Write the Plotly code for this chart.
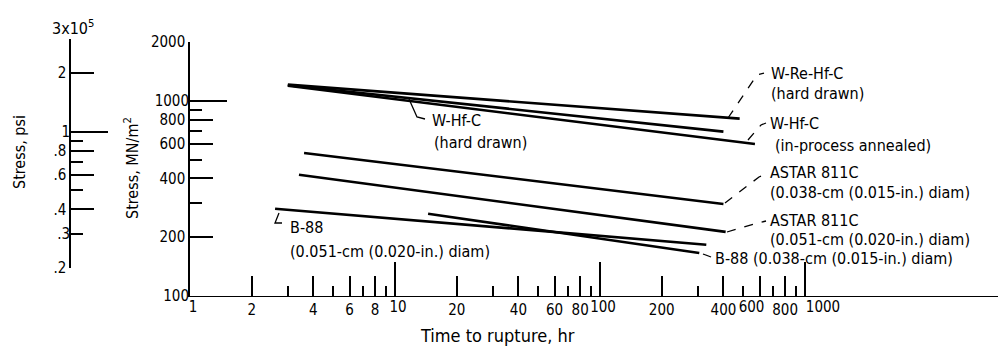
import math
import plotly.graph_objects as go

# page size and the browser's default 8 px body margin
W, H = 1006, 346
OFF = 8
FIG_W, FIG_H = W - OFF, H - OFF

# ---------------- data ----------------
series_names = [
    "W-Re-Hf-C (hard drawn)",
    "W-Hf-C (hard drawn)",
    "W-Hf-C (in-process annealed)",
    "ASTAR 811C (0.038-cm)",
    "ASTAR 811C (0.051-cm)",
    "B-88 (0.051-cm)",
    "B-88 (0.038-cm)",
]
time_start_hr = [3.0, 3.0, 3.0, 3.6, 3.4, 2.6, 14.5]
time_end_hr = [480, 400, 570, 400, 410, 330, 305]
stress_start_mn = [1210, 1200, 1195, 540, 418, 280, 264]
stress_end_mn = [810, 695, 600, 296, 213, 183, 166]

x_major_ticks = [2, 4, 6, 8, 20, 40, 60, 80, 200, 400, 600, 800]
x_minor_ticks = [3, 5, 7, 9, 30, 50, 70, 90, 300, 500, 700, 900]
x_decade_ticks = [1, 10, 100]
x_last_tick = [1000]
x_shifted_label = [600]
mn_major_ticks = [200, 400, 600, 800, 2000]
mn_minor_ticks = [300, 500, 700, 900]
mn_long_ticks = [100, 1000]
psi_major_ticks = [2, 0.8, 0.6, 0.4, 0.2]
psi_minor_ticks = [3, 0.9, 0.7, 0.5]
psi_long_ticks = [1]
psi_short_labeled = [0.3]

FONT = "DejaVu Sans Condensed, Liberation Sans Narrow, DejaVu Sans, sans-serif"
FS = 16
TFS = 15


def psi_label(v):
    if v >= 1:
        return str(int(v))
    return "." + str(int(round(v * 10)))


def px(x):
    return (x - OFF) / FIG_W


def py(y):
    return 1 - (y - OFF) / FIG_H


x_dom = [px(190), 1.0]
x_rng = [0, (W - 190) / 205.0]
y_dom = [py(296), py(42)]
y_rng = [2, math.log10(2000)]
psi_dom = [py(268), py(38.5)]
psi_rng = [math.log10(0.2), math.log10(3)]
psi_pos = px(70)

fig = go.Figure()

for name, t0, t1, s0, s1 in zip(series_names, time_start_hr, time_end_hr,
                                stress_start_mn, stress_end_mn):
    fig.add_trace(go.Scatter(x=[t0, t1], y=[s0, s1], mode="lines", name=name,
                             line=dict(color="black", width=2.6),
                             xaxis="x", yaxis="y", showlegend=False))

# empty traces so the extra axes are drawn
for xa, ya in [("x2", "y"), ("x3", "y"), ("x4", "y"), ("x", "y3"),
               ("x", "y2"), ("x", "y4"), ("x", "y5")]:
    fig.add_trace(go.Scatter(x=[], y=[], xaxis=xa, yaxis=ya, showlegend=False,
                             hoverinfo="skip"))

tickfont = dict(family=FONT, size=TFS, color="black")

common_x = dict(type="log", range=x_rng, domain=x_dom, showgrid=False,
                zeroline=False, tickfont=tickfont, tickcolor="black",
                tickwidth=1.5, ticks="inside", tickangle=0, automargin=False,
                tickmode="array")
common_y = dict(type="log", showgrid=False, zeroline=False, tickfont=tickfont,
                tickcolor="black", tickwidth=1.5, ticks="inside",
                automargin=False, tickmode="array")

fig.update_layout(
    width=FIG_W, height=FIG_H, autosize=False,
    margin=dict(l=0, r=0, t=0, b=0, pad=0),
    paper_bgcolor="white", plot_bgcolor="rgba(0,0,0,0)",
    showlegend=False, hovermode=False,
    xaxis=dict(**common_x, anchor="y", showline=True, linecolor="black",
               linewidth=1.2, tickvals=x_major_ticks,
               ticktext=["" if v in x_shifted_label else str(v)
                         for v in x_major_ticks], ticklen=20,
               minor=dict(tickmode="array", tickvals=x_minor_ticks,
                          ticks="inside", ticklen=10, tickwidth=1.5,
                          tickcolor="black", showgrid=False)),
    xaxis2=dict(**common_x, anchor="y", overlaying="x", side="bottom",
                showline=False, tickvals=x_decade_ticks,
                ticktext=[str(v) for v in x_decade_ticks], ticklen=34,
                ticklabelshift=3),
    xaxis3=dict(**common_x, anchor="y", overlaying="x", side="bottom",
                showline=False, tickvals=x_shifted_label,
                ticktext=[str(v) for v in x_shifted_label], ticklen=20,
                ticklabelshift=-8),
    xaxis4=dict(**common_x, anchor="y", overlaying="x", side="bottom",
                showline=False, tickvals=x_last_tick,
                ticktext=[str(v) for v in x_last_tick], ticklen=34,
                ticklabelshift=18),
    yaxis=dict(**common_y, range=y_rng, domain=y_dom, anchor="x", side="left",
               showline=True, linecolor="black", linewidth=1.5,
               tickvals=mn_major_ticks,
               ticktext=[str(v) for v in mn_major_ticks], ticklen=23,
               minor=dict(tickmode="array", tickvals=mn_minor_ticks,
                          ticks="inside", ticklen=12, tickwidth=1.5,
                          tickcolor="black", showgrid=False)),
    yaxis3=dict(**common_y, range=y_rng, domain=y_dom, anchor="x",
                overlaying="y", side="left", showline=False,
                tickvals=mn_long_ticks,
                ticktext=[str(v) for v in mn_long_ticks], ticklen=37),
    yaxis2=dict(**common_y, range=psi_rng, domain=psi_dom, anchor="free",
                position=psi_pos, side="left", showline=True,
                linecolor="black", linewidth=1.5,
                tickvals=psi_major_ticks,
                ticktext=[psi_label(v) for v in psi_major_ticks], ticklen=23,
                minor=dict(tickmode="array", tickvals=psi_minor_ticks,
                           ticks="inside", ticklen=12, tickwidth=1.5,
                           tickcolor="black", showgrid=False)),
    yaxis4=dict(**common_y, range=psi_rng, domain=psi_dom, anchor="free",
                position=psi_pos, overlaying="y2", side="left",
                showline=False, tickvals=psi_long_ticks,
                ticktext=[psi_label(v) for v in psi_long_ticks], ticklen=37),
    yaxis5=dict(**common_y, range=psi_rng, domain=psi_dom, anchor="free",
                position=psi_pos, overlaying="y2", side="left",
                showline=False, tickvals=psi_short_labeled,
                ticktext=[psi_label(v) for v in psi_short_labeled], ticklen=12),
)

# ---------------- text labels ----------------
labels = [
    ("W-Re-Hf-C", 769, 73),
    ("(hard drawn)", 769, 94),
    ("W-Hf-C", 768, 123),
    ("(in-process annealed)", 773, 145),
    ("ASTAR 811C", 768, 173),
    ("(0.038-cm (0.015-in.) diam)", 768, 192),
    ("ASTAR 811C", 768, 220),
    ("(0.051-cm (0.020-in.) diam)", 768, 239),
    ("B-88 (0.038-cm (0.015-in.) diam)", 713, 258),
    ("W-Hf-C", 430, 120),
    ("(hard drawn)", 432, 142),
    ("B-88", 288, 227),
    ("(0.051-cm (0.020-in.) diam)", 288, 251),
]
for txt, lx, ly in labels:
    fig.add_annotation(text=txt, x=px(lx), y=py(ly), xref="paper", yref="paper",
                       xanchor="left", yanchor="middle", showarrow=False,
                       font=dict(family=FONT, size=FS, color="black"))

fig.add_annotation(text="3x10<sup>5</sup>", x=px(73), y=py(28), xref="paper",
                   yref="paper", xanchor="center", yanchor="middle",
                   showarrow=False, font=dict(family=FONT, size=FS, color="black"))
fig.add_annotation(text="Time to rupture, hr", x=px(497), y=py(335),
                   xref="paper", yref="paper", xanchor="center",
                   yanchor="middle", showarrow=False,
                   font=dict(family=FONT, size=18, color="black"))
fig.add_annotation(text="Stress, MN/m<sup>2</sup>", x=px(131), y=py(168),
                   xref="paper", yref="paper", textangle=-90, xanchor="center",
                   yanchor="middle", showarrow=False,
                   font=dict(family=FONT, size=FS, color="black"))
fig.add_annotation(text="Stress, psi", x=px(20), y=py(152), xref="paper",
                   yref="paper", textangle=-90, xanchor="center",
                   yanchor="middle", showarrow=False,
                   font=dict(family=FONT, size=FS, color="black"))

# ---------------- leader lines ----------------
def path(points):
    return "M " + " L ".join(f"{px(a):.5f},{py(b):.5f}" for a, b in points)


leaders = [
    ([(728, 118), (757, 75), (764, 73)], "dash"),
    ([(748, 140), (761, 125), (766, 123)], "dash"),
    ([(725, 203), (759, 177), (766, 174)], "dash"),
    ([(727, 232), (758, 223), (766, 221)], "dash"),
    ([(703, 254), (711, 257)], "solid"),
    ([(409, 99), (417, 117), (425, 119)], "solid"),
    ([(279, 213), (275, 223), (282, 223)], "solid"),
]
for pts, dash in leaders:
    fig.add_shape(type="path", path=path(pts), xref="paper", yref="paper",
                  line=dict(color="black", width=1.3, dash=dash))

fig.write_html("out.html")
